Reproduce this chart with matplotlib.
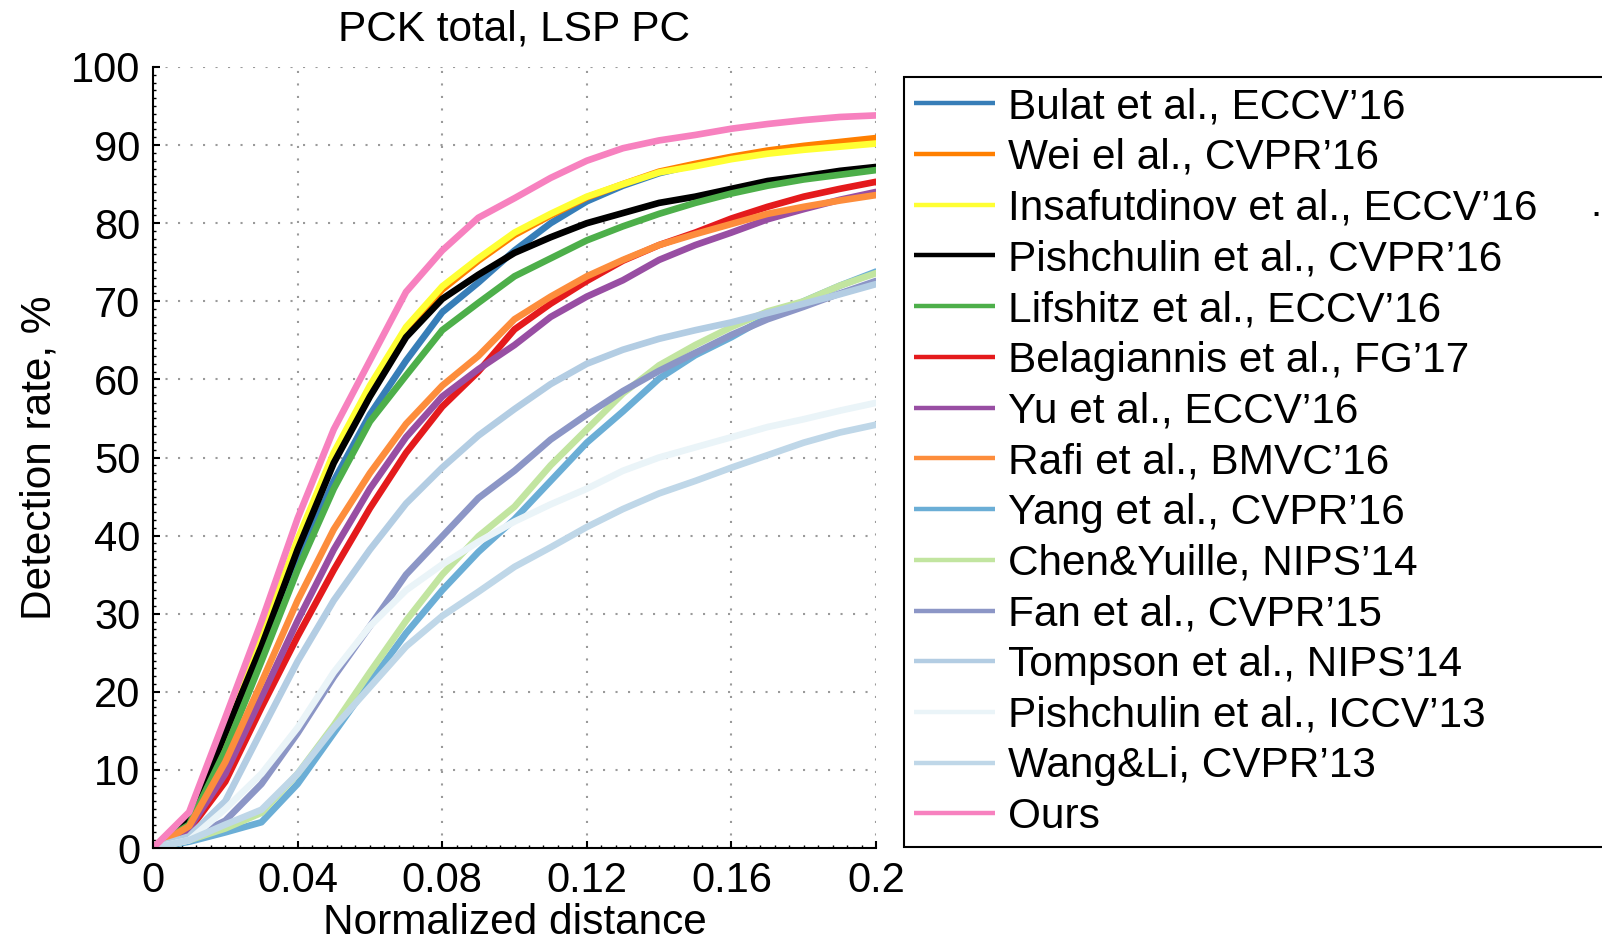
import matplotlib
matplotlib.use("Agg")
import matplotlib.pyplot as plt
from matplotlib.ticker import MultipleLocator

plt.rcParams['font.family'] = ['Liberation Sans', 'DejaVu Sans']

# normalized distance (x) and PCK values (%)
dist = [0.0, 0.01, 0.02, 0.03, 0.04, 0.05, 0.06, 0.07, 0.08, 0.09, 0.10,
        0.11, 0.12, 0.13, 0.14, 0.15, 0.16, 0.17, 0.18, 0.19, 0.20]

bulat = [0, 3.2, 13.5, 25, 36.5, 47, 55.5, 62.4, 68.6, 72.4, 76.5,
         80, 82.8, 84.8, 86.4, 87.5, 88.4, 89.1, 89.7, 90.1, 90.5]
wei = [0, 3.6, 14.5, 26.5, 39, 50, 58.8, 66.3, 71.5, 75.2, 78.5,
       81, 83.3, 85, 86.6, 87.6, 88.5, 89.3, 89.9, 90.4, 90.9]
insafutdinov = [0, 3.8, 15, 27, 39.5, 50.6, 59.2, 66.7, 71.9, 75.5, 78.8,
                81.2, 83.4, 85, 86.5, 87.3, 88.2, 88.9, 89.4, 89.8, 90.2]
pishchulin16 = [0, 3.5, 14.7, 25.8, 38.2, 49.3, 57.8, 65.4, 70.3, 73.4, 76.2,
                78.2, 80, 81.3, 82.6, 83.4, 84.4, 85.4, 86, 86.7, 87.2]
lifshitz = [0, 3, 12.5, 23.9, 35.6, 46, 54.6, 60.5, 66.3, 69.8, 73.2,
            75.5, 77.8, 79.6, 81.2, 82.6, 83.8, 84.8, 85.6, 86.2, 86.8]
belagiannis = [0, 2.3, 8.5, 18, 27.1, 35.6, 43.5, 50.6, 56.5, 61, 66.4,
               69.7, 72.6, 75.2, 77.2, 78.8, 80.6, 82.1, 83.4, 84.4, 85.3]
yu = [0, 2.5, 9.5, 19.3, 29.1, 38.2, 46, 52.6, 57.8, 61.3, 64.4,
      68, 70.6, 72.7, 75.3, 77.2, 78.8, 80.5, 81.8, 83, 84]
rafi = [0, 2.8, 11, 21.2, 31.7, 40.8, 48, 54.3, 59.2, 63, 67.7,
        70.6, 73.2, 75.3, 77.2, 78.6, 79.9, 81.2, 82.1, 82.9, 83.6]
yang = [0, 0.8, 2, 3.3, 8.2, 14.7, 21.2, 27.5, 33, 37.9, 42.1,
        47, 51.9, 55.9, 60.1, 63.1, 65.4, 68, 70, 72, 73.8]
chen = [0, 1, 2.5, 4.5, 9.5, 15.7, 22.5, 29.1, 35, 39.9, 43.7,
        49, 53.6, 58.2, 61.8, 64.4, 66.7, 68.7, 70, 72, 73.6]
fan = [0, 1.2, 3.5, 8.2, 14.7, 21.9, 28.4, 35, 39.9, 44.8, 48.3,
       52.3, 55.5, 58.5, 61.1, 63.4, 65.7, 67.7, 69.3, 71, 72.6]
tompson = [0, 1.5, 6, 15, 23.9, 31.7, 38.2, 44.1, 48.7, 52.8, 56.2,
           59.4, 62, 63.8, 65.2, 66.3, 67.3, 68.5, 69.7, 70.9, 72.2]
pishchulin13 = [0, 1, 5, 9.5, 15.4, 22.5, 28.4, 33, 36.3, 39.2, 41.8,
                44, 46, 48.3, 50, 51.3, 52.6, 53.9, 54.9, 56, 57]
wang = [0, 1, 3, 4.9, 9.5, 15.4, 20.6, 25.8, 29.7, 32.8, 36,
        38.5, 41.1, 43.4, 45.4, 47, 48.7, 50.3, 51.9, 53.2, 54.2]
ours = [0, 4.6, 16.7, 29, 42.2, 53.6, 62.4, 71.2, 76.5, 80.7, 83.2,
        85.8, 88, 89.6, 90.6, 91.3, 92.1, 92.7, 93.2, 93.6, 93.8]

methods = [
    ("Bulat et al., ECCV\u201916", bulat, '#377eb8'),
    ("Wei el al., CVPR\u201916", wei, '#ff7f00'),
    ("Insafutdinov et al., ECCV\u201916", insafutdinov, '#ffff33'),
    ("Pishchulin et al., CVPR\u201916", pishchulin16, '#000000'),
    ("Lifshitz et al., ECCV\u201916", lifshitz, '#4daf4a'),
    ("Belagiannis et al., FG\u201917", belagiannis, '#e41a1c'),
    ("Yu et al., ECCV\u201916", yu, '#984ea3'),
    ("Rafi et al., BMVC\u201916", rafi, '#fd8d3c'),
    ("Yang et al., CVPR\u201916", yang, '#6baed6'),
    ("Chen&Yuille, NIPS\u201914", chen, '#c2e5a0'),
    ("Fan et al., CVPR\u201915", fan, '#8c96c6'),
    ("Tompson et al., NIPS\u201914", tompson, '#b3cde3'),
    ("Pishchulin et al., ICCV\u201913", pishchulin13, '#eaf4f8'),
    ("Wang&Li, CVPR\u201913", wang, '#bfd7e8'),
    ("Ours", ours, '#f781bf'),
]

fig = plt.figure(figsize=(16.02, 9.40), dpi=100)
ax = fig.add_axes([153 / 1602, 1 - 848 / 940, 723 / 1602, 781 / 940])

for label, values, color in methods:
    ax.plot(dist, values, color=color, lw=4.8, label=label,
            solid_joinstyle='round', solid_capstyle='round')

ax.set_xlim(0, 0.2)
ax.set_ylim(0, 100)
ax.xaxis.set_minor_locator(MultipleLocator(0.004))
ax.yaxis.set_major_locator(MultipleLocator(10))
ax.yaxis.set_minor_locator(MultipleLocator(1))
ax.set_xticks([0, 0.04, 0.08, 0.12, 0.16, 0.2])
ax.set_xticklabels(["0", "0.04", "0.08", "0.12", "0.16", "0.2"])

ax.grid(True, which='major', color='#9a9a9a', ls=(0, (1, 5)), lw=1.5)
ax.tick_params(which='major', direction='in', length=5, width=1.5, labelsize=30, pad=9)
ax.tick_params(which='minor', direction='in', length=2.5, width=1)
for side in ('top', 'right'):
    ax.spines[side].set_visible(False)
for side in ('left', 'bottom'):
    ax.spines[side].set_linewidth(1.5)

ax.set_title("PCK total, LSP PC", fontsize=30.5, pad=19)
ax.set_xlabel("Normalized distance", fontsize=30.5)
ax.xaxis.set_label_coords(0.5, -0.07)
ax.set_ylabel("Detection rate, %", fontsize=30.5)
ax.yaxis.set_label_coords(-0.13, 0.5)

leg = ax.legend(loc='upper left', bbox_to_anchor=(904 / 1602, 0.0, 0.6, 1 - 77 / 940),
                bbox_transform=fig.transFigure, mode='expand', borderaxespad=0,
                fontsize=30.5, frameon=True, fancybox=False, framealpha=1,
                edgecolor='black', handlelength=1.91, handletextpad=0.3,
                labelspacing=0.253, borderpad=0.24)
leg.get_frame().set_linewidth(1.5)
for line in leg.get_lines():
    line.set_linewidth(3.2)
    line.set_solid_capstyle('butt')

fig.text(0.993, 1 - 216 / 940, ".", fontsize=29, va='baseline', ha='left')

fig.savefig("out.png", dpi=100)
